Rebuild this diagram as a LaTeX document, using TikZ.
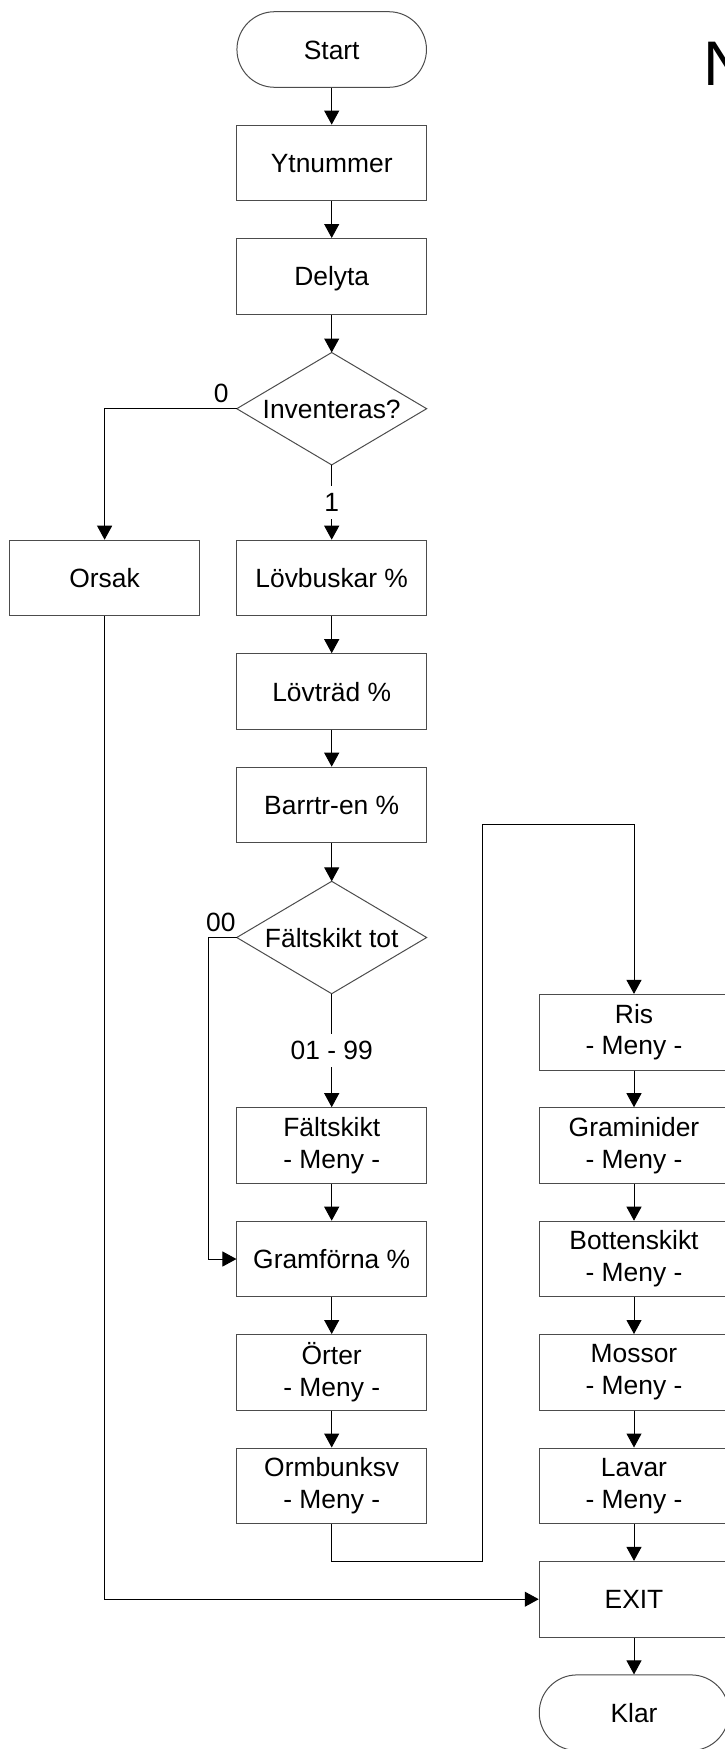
\documentclass[tikz,border=0pt]{standalone}
\usepackage{fontspec}
\setmainfont{Liberation Sans}
\usetikzlibrary{arrows.meta}
\begin{document}
\begin{tikzpicture}[x=1pt,y=-1pt,
  every node/.style={font=\fontsize{26.4}{31.7}\selectfont},
  box/.style={draw=black!70, line width=1pt, minimum width=189.5pt, minimum height=75.6pt, inner sep=0pt, align=center},
  one/.style={text height=19pt, text depth=0pt},
  term/.style={box, rounded corners=37.7pt},
  dia/.style={minimum width=189.5pt, minimum height=112pt, inner sep=0pt},
  arr/.style={line width=1pt, -{Triangle[length=14pt,width=15pt]}},
  ln/.style={line width=1pt},
  lab/.style={inner sep=0pt},
  labgap/.style={fill=white, inner xsep=2pt, inner ysep=7pt, text height=19pt, text depth=0pt}
]
\useasboundingbox (0,0) rectangle (725,1749);
\clip (0,0) rectangle (725,1749);

% title letter (cut off at the right edge, as in the reference)
\node[anchor=base west, inner sep=0pt, font=\fontsize{63}{70}\selectfont] (ntitle) at (703,85) {N};

% middle column
\node[term,one] (start) at (331.7,49.5) {Start};
\node[box,one] (ytn) at (331.7,162.9) {Ytnummer};
\node[box,one] (del) at (331.7,276.3) {Delyta};
\node[dia,one] (inv) at (331.7,408.7) {Inventeras?};
\draw[ln,draw=black!70] (inv.north) -- (inv.east) -- (inv.south) -- (inv.west) -- cycle;
\node[box,one] (ors) at (104.6,578) {Orsak};
\node[box,one] (lbu) at (331.7,578) {Lövbuskar \%};
\node[box,one] (ltr) at (331.7,691.5) {Lövträd \%};
\node[box,one] (bar) at (331.7,805) {Barrtr-en \%};
\node[dia,one] (ftot) at (331.7,937.5) {Fältskikt tot};
\draw[ln,draw=black!70] (ftot.north) -- (ftot.east) -- (ftot.south) -- (ftot.west) -- cycle;
\node[box] (fsk) at (331.7,1145.5) {Fältskikt\\- Meny -};
\node[box,one] (gfo) at (331.7,1259) {Gramförna \%};
\node[box] (ort) at (331.7,1372.3) {Örter\\- Meny -};
\node[box] (orm) at (331.7,1485.8) {Ormbunksv\\- Meny -};

% right column
\node[box] (ris) at (634,1032.2) {Ris\\- Meny -};
\node[box] (gra) at (634,1145.5) {Graminider\\- Meny -};
\node[box] (bot) at (634,1259) {Bottenskikt\\- Meny -};
\node[box] (mos) at (634,1372.3) {Mossor\\- Meny -};
\node[box] (lav) at (634,1485.8) {Lavar\\- Meny -};
\node[box,one] (exit) at (634,1599.2) {EXIT};
\node[term,one] (klar) at (634,1712.7) {Klar};

% labels
\node[lab, anchor=base east] (l0) at ([xshift=-8pt,yshift=6pt]inv.west) {0};
\node[lab, anchor=base east] (l00) at ([xshift=-1pt,yshift=6pt]ftot.west) {00};

% connectors
\draw[arr] (start) -- (ytn);
\draw[arr] (ytn) -- (del);
\draw[arr] (del) -- (inv.north);
\draw[arr] (inv.west) -| (ors.north);
\draw[arr] (inv.south) -- node[labgap] (l1) {1} (lbu.north);
\draw[arr] (lbu) -- (ltr);
\draw[arr] (ltr) -- (bar);
\draw[arr] (bar) -- (ftot.north);
\draw[arr] (ftot.south) -- node[labgap] (l199) {01 - 99} (fsk.north);
\draw[arr] (ftot.west) -- ++(-28.3,0) |- (gfo.west);
\draw[arr] (fsk) -- (gfo);
\draw[arr] (gfo) -- (ort);
\draw[arr] (ort) -- (orm);
\coordinate (c1) at (482.6,1561.7);
\coordinate (c2) at (482.6,824.3);
\draw[arr] (orm.south) |- (c1) -- (c2) -| (ris.north);
\draw[arr] (ris) -- (gra);
\draw[arr] (gra) -- (bot);
\draw[arr] (bot) -- (mos);
\draw[arr] (mos) -- (lav);
\draw[arr] (lav) -- (exit);
\draw[arr] (exit) -- (klar);
\draw[arr] (ors.south) |- (exit.west);
\end{tikzpicture}
\end{document}
